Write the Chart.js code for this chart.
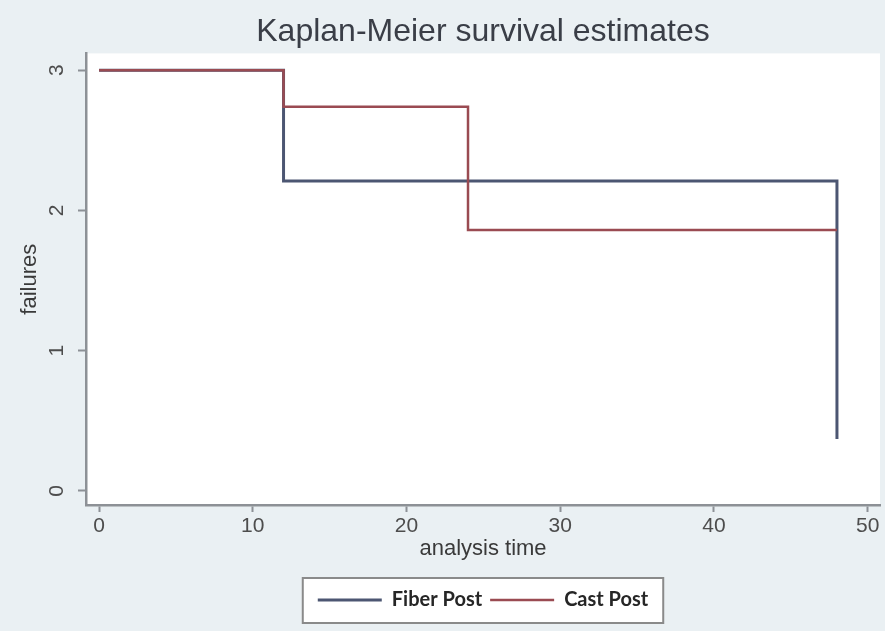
<!DOCTYPE html>
<html>
<head>
<meta charset="utf-8">
<title>Kaplan-Meier survival estimates</title>
<script src="https://cdn.jsdelivr.net/npm/chart.js@4/dist/chart.umd.min.js"></script>
<style>
  html, body { margin: 0; padding: 0; background: #eaf0f3; }
  canvas { display: block; }
</style>
</head>
<body>
<canvas id="kmchart" width="885" height="631"></canvas>
<script>
"use strict";
(function() {
    const canvas = document.getElementById("kmchart");

    // step points (time, value)
    const fiberTimes  = [0, 12, 48];
    const fiberValues = [3, 2.21, 0.37];
    const castTimes   = [0, 12, 24, 48];
    const castValues  = [3, 2.74, 1.86, 1.86];

    const xTicks = [0, 10, 20, 30, 40, 50];
    const yTicks = [0, 1, 2, 3];

    const BG = "#eaf0f3";
    const AXIS = "#8d9196";

    function toPoints(times, values) {
        return times.map((t, i) => ({x: t, y: values[i]}));
    }

    //paints the grey page, the white plot region and the framed legend
    const backdrop = {
        id: "backdrop",
        beforeDraw(chart) {
            const {ctx, chartArea} = chart;
            ctx.save();
            ctx.fillStyle = BG;
            ctx.fillRect(0, 0, chart.width, chart.height);
            ctx.fillStyle = "#ffffff";
            ctx.fillRect(chartArea.left, chartArea.top, chartArea.right - chartArea.left, chartArea.bottom - chartArea.top);

            const boxes = chart.legend.legendHitBoxes;
            if (boxes && boxes.length) {
                const left = Math.min(...boxes.map(b => b.left)) - 15;
                const right = Math.max(...boxes.map(b => b.left + b.width)) + 15;
                const cy = boxes[0].top + boxes[0].height / 2;
                ctx.fillStyle = "#ffffff";
                ctx.fillRect(left, cy - 22, right - left, 45);
                ctx.strokeStyle = "#8a8a8a";
                ctx.lineWidth = 2;
                ctx.strokeRect(left, cy - 22, right - left, 45);
            }
            ctx.restore();
        }
    };

    new Chart(canvas, {
        type: "line",
        data: {
            datasets: [
                {label: "Fiber Post",
                data: toPoints(fiberTimes, fiberValues),
                borderColor: "#4c5672",
                backgroundColor: "#4c5672",
                borderWidth: 3,
                order: 1
                },

                {label: "Cast Post",
                data: toPoints(castTimes, castValues),
                borderColor: "#9a4b52",
                backgroundColor: "#9a4b52",
                borderWidth: 2.5,
                order: 0
                }
            ]
        },
        options: {
            responsive: false,
            animation: false,
            devicePixelRatio: 1,
            layout: {
                padding: {left: 0, right: 5, top: 0, bottom: 11}
            },
            elements: {
                point: {radius: 0},
                line: {stepped: true, fill: false, tension: 0}
            },
            plugins: {
                title: {
                    display: true,
                    text: "Kaplan-Meier survival estimates",
                    fullSize: false,
                    color: "#3a3e47",
                    font: {family: "Liberation Sans", size: 32, weight: "normal"},
                    padding: {top: 13, bottom: 2}
                },
                legend: {
                    position: "bottom",
                    fullSize: false,
                    labels: {
                        boxWidth: 64,
                        boxHeight: 0,
                        padding: 8,
                        color: "#262626",
                        font: {family: "Lato", size: 20, weight: "bold"},
                        sort: (a, b) => a.datasetIndex - b.datasetIndex
                    }
                },
                tooltip: {enabled: false}
            },
            scales: {
                x: {
                    type: "linear",
                    min: -0.85,
                    max: 50.8,
                    afterBuildTicks: scale => { scale.ticks = xTicks.map(v => ({value: v})); },
                    afterFit: scale => { scale.height = 77; },
                    grid: {drawOnChartArea: false, drawTicks: true, tickLength: 7, tickColor: AXIS, tickWidth: 2},
                    border: {display: true, color: AXIS, width: 2.5},
                    ticks: {
                        padding: 2,
                        color: "#4d4d4d",
                        maxRotation: 0,
                        font: {family: "Liberation Sans", size: 21}
                    },
                    title: {
                        display: true,
                        text: "analysis time",
                        color: "#3a3a3a",
                        font: {family: "Liberation Sans", size: 22},
                        padding: {top: 0, bottom: 20}
                    }
                },
                y: {
                    type: "linear",
                    min: -0.1,
                    max: 3.12,
                    afterBuildTicks: scale => { scale.ticks = yTicks.map(v => ({value: v})); },
                    afterFit: scale => { scale.width = 86; },
                    grid: {drawOnChartArea: false, drawTicks: true, tickLength: 8, tickColor: AXIS, tickWidth: 2},
                    border: {display: true, color: AXIS, width: 2.5},
                    ticks: {
                        padding: 15,
                        minRotation: 90,
                        maxRotation: 90,
                        crossAlign: "center",
                        color: "#4d4d4d",
                        font: {family: "Liberation Sans", size: 21}
                    },
                    title: {
                        display: true,
                        text: "failures",
                        color: "#3a3a3a",
                        font: {family: "Liberation Sans", size: 22},
                        padding: {top: 17, bottom: 0}
                    }
                }
            }
        },
        plugins: [backdrop]
    });
})();
</script>
</body>
</html>
